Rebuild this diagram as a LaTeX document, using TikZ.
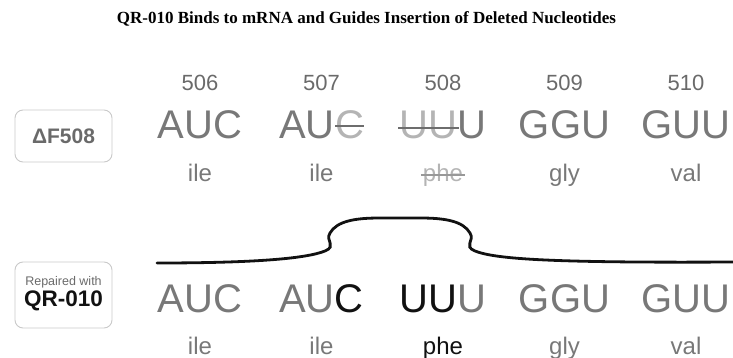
\documentclass[tikz,border=0pt]{standalone}
\usepackage{fontspec}
\setmainfont{Liberation Sans}
\newfontfamily\titlefont{Liberation Serif}
\usetikzlibrary{positioning}

\definecolor{codongray}{HTML}{787878}
\definecolor{numgray}{HTML}{6A6A6A}
\definecolor{gonegray}{HTML}{B4B4B4}
\definecolor{strikegray}{HTML}{6D6D6D}
\definecolor{boxgray}{HTML}{C9C9C9}
\definecolor{darktext}{HTML}{111111}

\tikzset{
  codon/.style={font=\fontsize{40}{40}\selectfont, text=codongray,
    inner sep=0pt, anchor=base},
  number/.style={font=\fontsize{22}{22}\selectfont, text=numgray,
    inner sep=0pt, anchor=base},
  aminoacid/.style={font=\fontsize{24}{24}\selectfont, text=codongray,
    inner sep=0pt, anchor=base},
  gone/.style={text=gonegray},
  strike/.style={line width=2.6pt, strikegray},
  tagbox/.style={draw=boxgray, line width=0.9pt, rounded corners=8pt,
    minimum width=97pt, inner sep=0pt},
  strand/.style={line width=2.8pt, darktext, line cap=round}
}

\begin{document}
\begin{tikzpicture}[x=1pt, y=-1pt]
  \useasboundingbox (0,0) rectangle (733,358);

  \node (title) [anchor=base] at (366.5,24)
    {\titlefont\bfseries\fontsize{17}{17}\selectfont
     QR-010 Binds to mRNA and Guides Insertion of Deleted Nucleotides};

  % position numbers
  \node (num 506) [number] at (200,91) {506};
  \node (num 507) [number] at (321.5,91) {507};
  \node (num 508) [number] at (443,91) {508};
  \node (num 509) [number] at (564.5,91) {509};
  \node (num 510) [number] at (686,91) {510};

  % deletion row
  \node (del tag) [tagbox, minimum height=52pt, text=numgray,
    font=\bfseries\fontsize{21}{21}\selectfont] at (63.5,136) {ΔF508};

  \node (del 506) [codon] at (200,139) {AUC};

  \node (del 507) [codon] at (321.5,139) {\phantom{AUC}};
  \node (del 507 AU) [codon, anchor=base west] at (del 507.base west) {AU};
  \node (del 507 C) [codon, gone, base right=0pt of del 507 AU] {C};

  \node (del 508) [codon] at (443,139) {\phantom{UUU}};
  \node (del 508 UU) [codon, gone, anchor=base west] at (del 508.base west) {UU};
  \node (del 508 U) [codon, base right=0pt of del 508 UU] {U};

  \node (del 509) [codon] at (564.5,139) {GGU};
  \node (del 510) [codon] at (686,139) {GUU};

  \draw [strike]
    ([yshift=13pt]del 507 C.base west)
    -- ([yshift=13pt]del 507 C.base east)
  ;
  \draw [strike]
    ([xshift=-1pt,yshift=11pt]del 508 UU.base west)
    -- ([xshift=1pt,yshift=11pt]del 508 UU.base east)
  ;

  \node (del aa 506) [aminoacid] at (200,182) {ile};
  \node (del aa 507) [aminoacid] at (321.5,182) {ile};
  \node (del aa 508) [aminoacid, gone] at (443,182) {phe};
  \node (del aa 509) [aminoacid] at (564.5,182) {gly};
  \node (del aa 510) [aminoacid] at (686,182) {val};

  \draw [strike, line width=1.8pt, gonegray!60!strikegray]
    ([xshift=-2pt,yshift=7pt]del aa 508.base west)
    -- ([xshift=2pt,yshift=7pt]del aa 508.base east)
  ;

  % QR-010 on the mRNA
  \draw [strand]
    (157,263)
    .. controls (250,263) and (305,259) .. (325,251)
    .. controls (337,246) and (325,241) .. (330,233)
    .. controls (337,221) and (355,218) .. (380,218)
    -- (420,218)
    .. controls (445,218) and (463,221) .. (470,233)
    .. controls (475,241) and (463,246) .. (475,251)
    .. controls (495,259) and (550,263) .. (733,262)
  ;

  % repaired row
  \node (rep tag) [tagbox, minimum height=66pt] at (63.5,295) {};
  \node (rep with) [anchor=base, inner sep=0pt, text=numgray,
    font=\fontsize{12.5}{12.5}\selectfont] at (63.5,285) {Repaired with};
  \node (rep name) [anchor=base, inner sep=0pt, text=darktext,
    font=\bfseries\fontsize{22.5}{22.5}\selectfont] at (63.5,306) {QR-010};

  \node (rep 506) [codon] at (200,312) {AUC};
  \node (rep 507) [codon] at (321.5,312) {AU\textcolor{darktext}{C}};
  \node (rep 508) [codon] at (443,312) {\textcolor{darktext}{UU}U};
  \node (rep 509) [codon] at (564.5,312) {GGU};
  \node (rep 510) [codon] at (686,312) {GUU};

  \node (rep aa 506) [aminoacid] at (200,354) {ile};
  \node (rep aa 507) [aminoacid] at (321.5,354) {ile};
  \node (rep aa 508) [aminoacid, text=darktext] at (443,354) {phe};
  \node (rep aa 509) [aminoacid] at (564.5,354) {gly};
  \node (rep aa 510) [aminoacid] at (686,354) {val};
\end{tikzpicture}
\end{document}
